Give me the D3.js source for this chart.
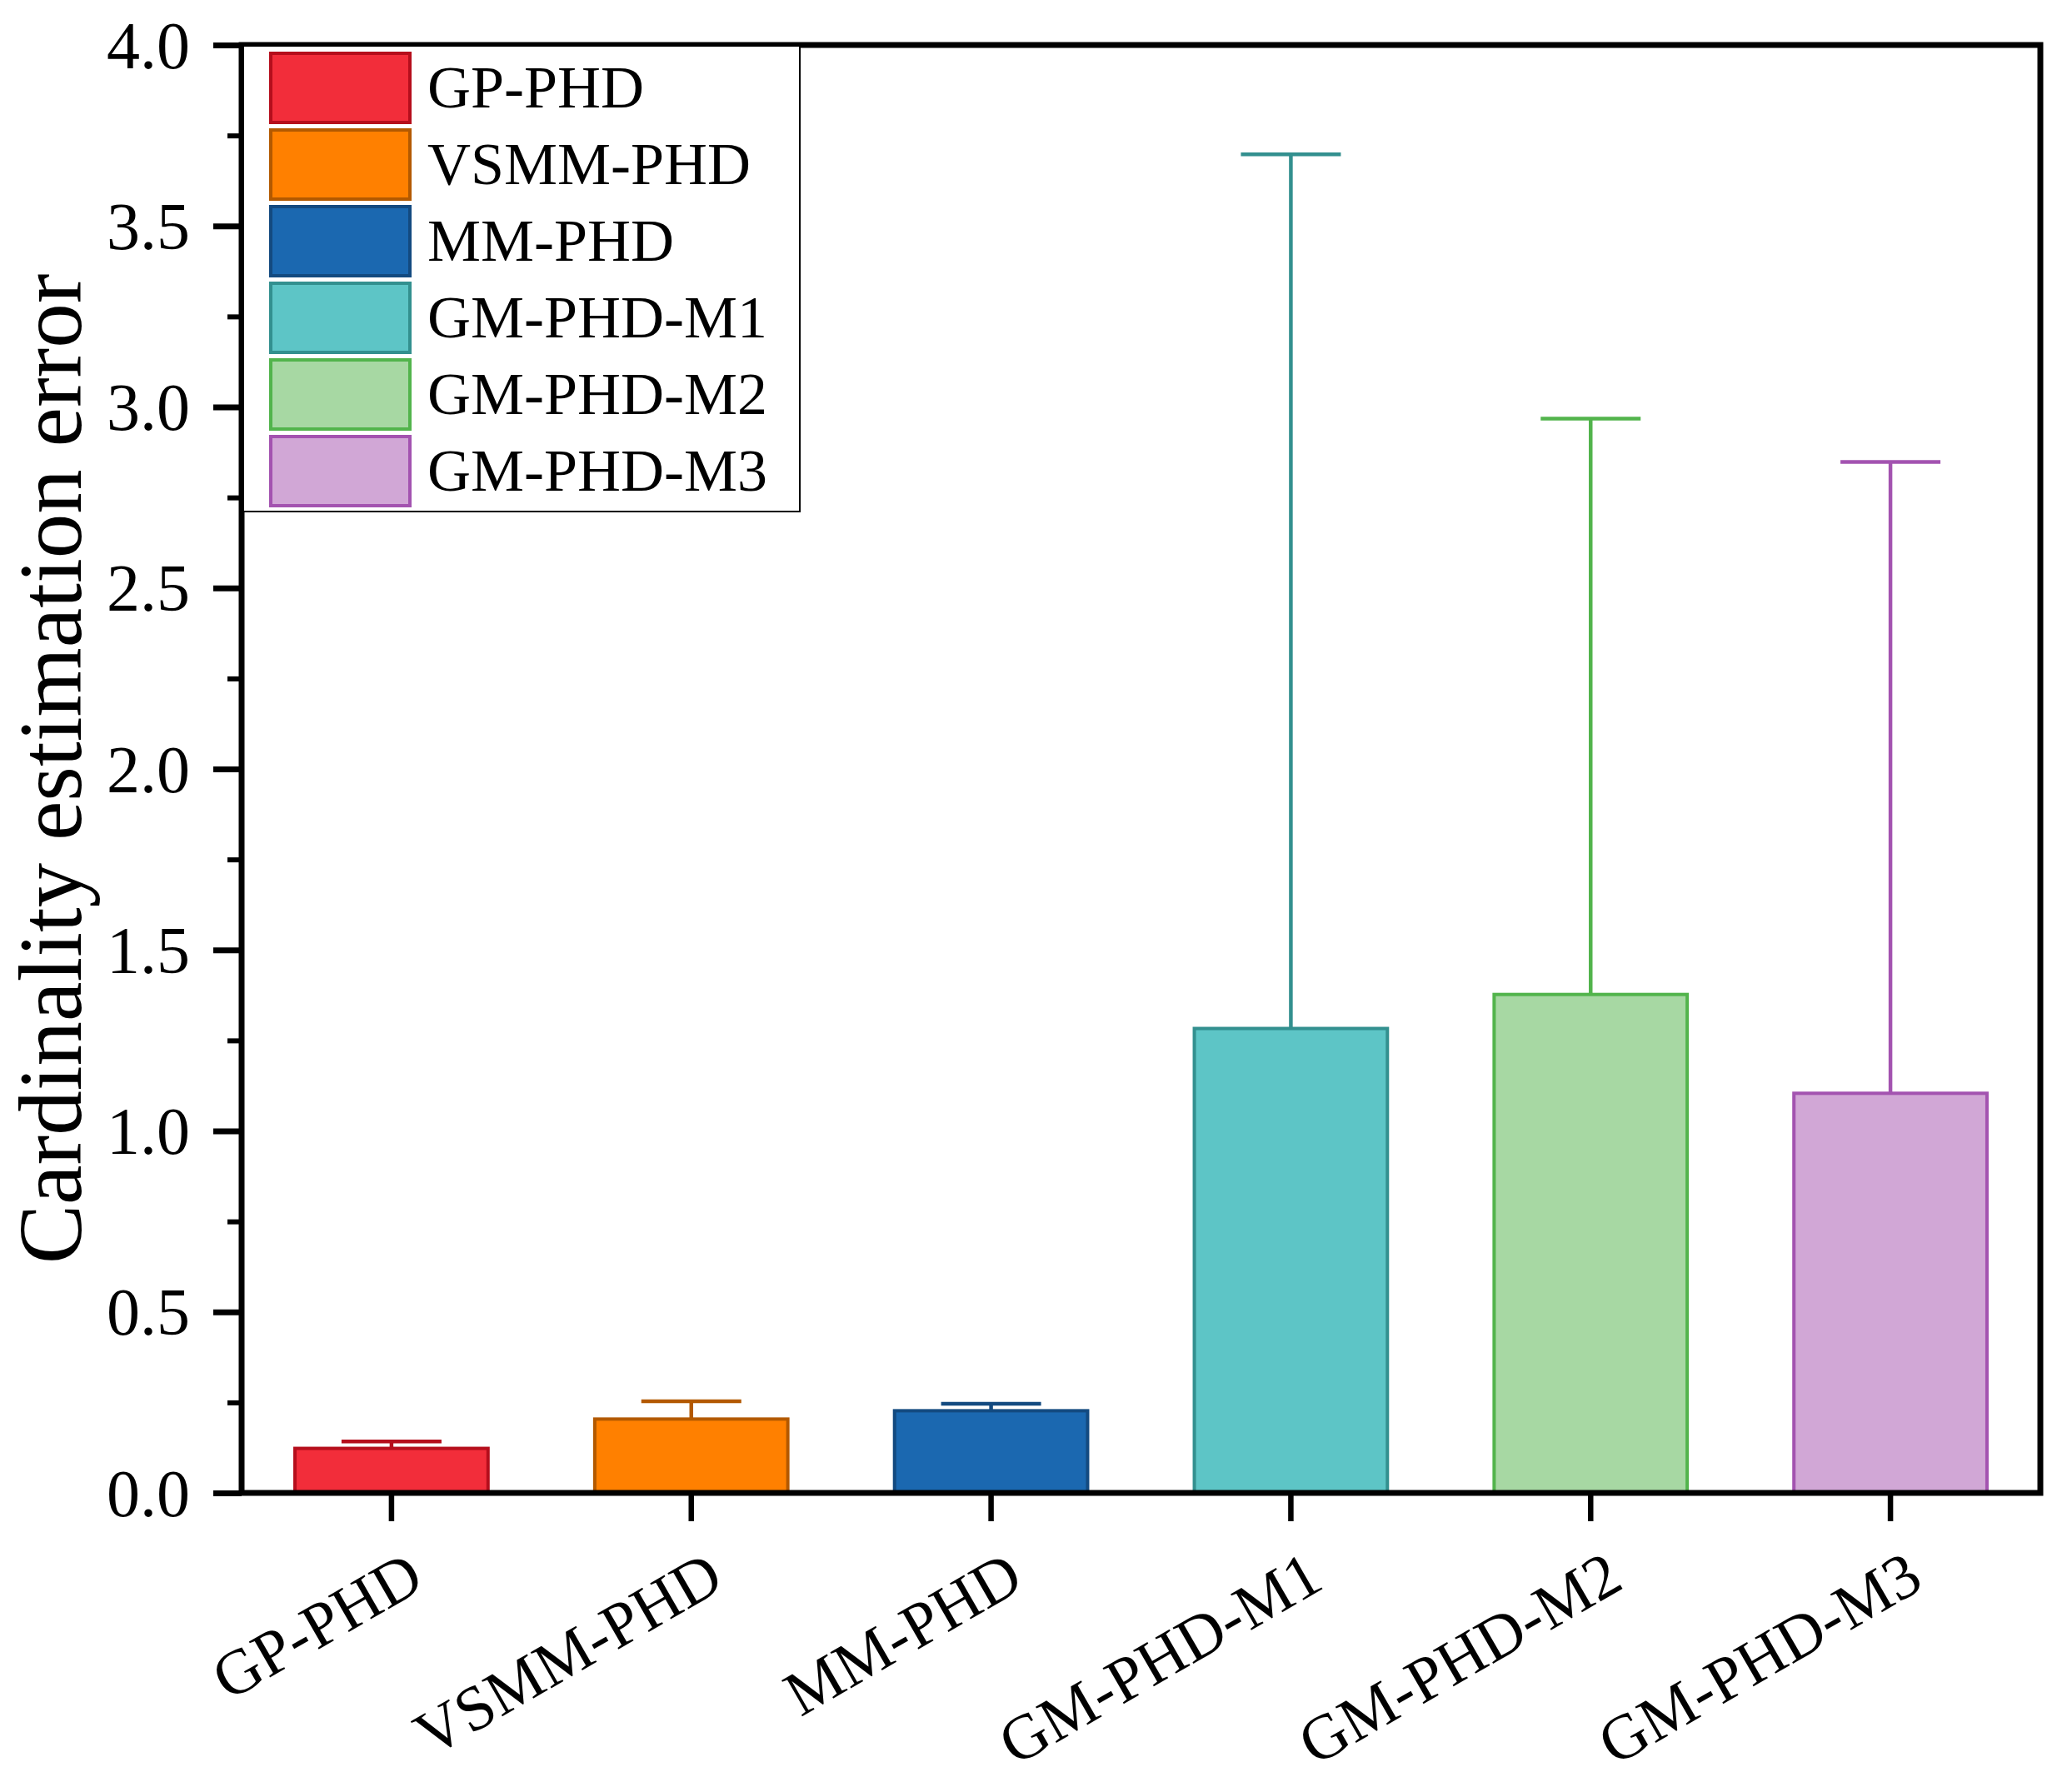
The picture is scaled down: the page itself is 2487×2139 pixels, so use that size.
<!DOCTYPE html>
<html>
<head>
<meta charset="utf-8">
<script src="https://cdnjs.cloudflare.com/ajax/libs/d3/7.8.5/d3.min.js"></script>
<style>
  body { margin: 0; background: #fff; }
  svg text { font-family: "Liberation Serif", "Times New Roman", Times, serif; fill: #000; }
</style>
</head>
<body>
<div id="chart"></div>
<script>
// data
var methods = ["GP-PHD", "VSMM-PHD", "MM-PHD", "GM-PHD-M1", "GM-PHD-M2", "GM-PHD-M3"];
var meanError = [0.123, 0.204, 0.227, 1.283, 1.377, 1.104];
var upperError = [0.019, 0.049, 0.019, 2.415, 1.591, 1.744];
var majorTicks = [0, 0.5, 1, 1.5, 2, 2.5, 3, 3.5, 4];
var minorTicks = [0.25, 0.75, 1.25, 1.75, 2.25, 2.75, 3.25, 3.75];

var fills = ["#F22D3A", "#FF8000", "#1B68B0", "#5DC5C6", "#A7D8A3", "#D1A7D6"];
var strokes = ["#B50E1C", "#B35900", "#134A80", "#33908F", "#52B44C", "#A353B0"];

var width = 2487;
var height = 2139;
// plot box edges (window.top is read-only, so no "top" here)
var plotLeft = 290, plotRight = 2449, plotTop = 54, plotBottom = 1792;
var serif = "'Liberation Serif', 'Times New Roman', Times, serif";

var svg = d3.select("#chart")
    .append("svg")
    .attr("width", width)
    .attr("height", height);

var x = d3.scaleBand()
    .domain(methods)
    .range([plotLeft, plotRight])
    .paddingInner(0.356)
    .paddingOuter(0.178);

var y = d3.scaleLinear()
    .domain([0, 4])
    .range([plotBottom, plotTop]);

// bars
svg.append("g")
    .selectAll("rect")
    .data(methods)
    .enter()
    .append("rect")
    .attr("x", function (d) { return x(d); })
    .attr("width", x.bandwidth())
    .attr("y", function (d, i) { return y(meanError[i]); })
    .attr("height", function (d, i) { return y(0) - y(meanError[i]); })
    .attr("fill", function (d, i) { return fills[i]; })
    .attr("stroke", function (d, i) { return strokes[i]; })
    .attr("stroke-width", 4);

// error bars (upper half only)
var err = svg.append("g")
    .selectAll("g")
    .data(methods)
    .enter()
    .append("g")
    .attr("stroke", function (d, i) { return strokes[i]; })
    .attr("stroke-width", 4.5);

err.append("line")
    .attr("x1", function (d) { return x(d) + x.bandwidth() / 2; })
    .attr("x2", function (d) { return x(d) + x.bandwidth() / 2; })
    .attr("y1", function (d, i) { return y(meanError[i]); })
    .attr("y2", function (d, i) { return y(meanError[i] + upperError[i]); });

err.append("line")
    .attr("x1", function (d) { return x(d) + x.bandwidth() / 2 - 60; })
    .attr("x2", function (d) { return x(d) + x.bandwidth() / 2 + 60; })
    .attr("y1", function (d, i) { return y(meanError[i] + upperError[i]); })
    .attr("y2", function (d, i) { return y(meanError[i] + upperError[i]); });

// y axis, major and minor ticks
var yAxis = svg.append("g")
    .attr("transform", "translate(" + plotLeft + ",0)")
    .call(d3.axisLeft(y)
        .tickValues(majorTicks)
        .tickSize(34)
        .tickPadding(28)
        .tickFormat(d3.format(".1f")));
yAxis.attr("font-family", serif);
yAxis.select(".domain").remove();
yAxis.selectAll("line").attr("stroke", "#000").attr("stroke-width", 7);
yAxis.selectAll("text")
    .style("font-size", "80px")
    .attr("dy", "0.34em");

var yMinor = svg.append("g")
    .attr("transform", "translate(" + plotLeft + ",0)")
    .call(d3.axisLeft(y)
        .tickValues(minorTicks)
        .tickSize(17)
        .tickFormat(""));
yMinor.select(".domain").remove();
yMinor.selectAll("line").attr("stroke", "#000").attr("stroke-width", 6);

// x axis, labels turned 30 degrees
var xAxis = svg.append("g")
    .attr("transform", "translate(0," + plotBottom + ")")
    .call(d3.axisBottom(x).tickSize(34).tickSizeOuter(0));
xAxis.attr("font-family", serif);
xAxis.select(".domain").remove();
xAxis.selectAll("line").attr("stroke", "#000").attr("stroke-width", 6.5);
xAxis.selectAll("text")
    .style("font-size", "76px")
    .attr("y", 0)
    .attr("dy", 0)
    .attr("text-anchor", "end")
    .attr("transform", "translate(42,113) rotate(-30)");

// frame
svg.append("rect")
    .attr("x", plotLeft)
    .attr("y", plotTop)
    .attr("width", plotRight - plotLeft)
    .attr("height", plotBottom - plotTop)
    .attr("fill", "none")
    .attr("stroke", "#000")
    .attr("stroke-width", 7);

// y title
svg.append("text")
    .attr("transform", "translate(97," + ((plotTop + plotBottom) / 2) + ") rotate(-90)")
    .attr("text-anchor", "middle")
    .style("font-size", "107px")
    .text("Cardinality estimation error");

// legend
var legend = svg.append("g");

legend.append("rect")
    .attr("x", 292)
    .attr("y", 55)
    .attr("width", 668)
    .attr("height", 559)
    .attr("fill", "#fff")
    .attr("stroke", "#000")
    .attr("stroke-width", 2);

var item = legend.selectAll("g.item")
    .data(methods)
    .enter()
    .append("g")
    .attr("class", "item")
    .attr("transform", function (d, i) { return "translate(325," + (64 + i * 92) + ")"; });

item.append("rect")
    .attr("width", 167)
    .attr("height", 83)
    .attr("fill", function (d, i) { return fills[i]; })
    .attr("stroke", function (d, i) { return strokes[i]; })
    .attr("stroke-width", 4);

item.append("text")
    .attr("x", 188)
    .attr("y", 65)
    .style("font-size", "72px")
    .text(function (d) { return d; });
</script>
</body>
</html>
